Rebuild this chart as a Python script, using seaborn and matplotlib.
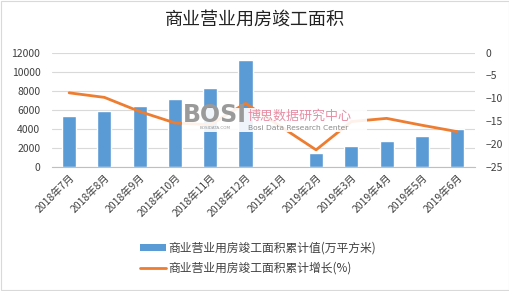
import numpy as np
import pandas as pd
import matplotlib
matplotlib.use("Agg")
import matplotlib.pyplot as plt
import seaborn as sns
from matplotlib.patches import Rectangle

categories = ["2018年7月", "2018年8月", "2018年9月", "2018年10月", "2018年11月", "2018年12月",
              "2019年1月", "2019年2月", "2019年3月", "2019年4月", "2019年5月", "2019年6月"]
area_values = [5340, 5900, 6390, 7130, 8280, 11230, np.nan, 1470, 2180, 2740, 3230, 3930]
growth_values = [-8.8, -9.8, -12.9, -15.4, -15.8, -11.1, np.nan, -21.3, -15.1, -14.4, -15.9, -17.3]
left_ticks = [0, 2000, 4000, 6000, 8000, 10000, 12000]
right_ticks = [0, -5, -10, -15, -20, -25]
title = "商业营业用房竣工面积"
bar_label = "商业营业用房竣工面积累计值(万平方米)"
line_label = "商业营业用房竣工面积累计增长(%)"

sns.set_style("white")
plt.rcParams["font.family"] = ["Noto Sans CJK SC", "DejaVu Sans"]

BAR = "#5B9BD5"
LINE = "#ED7D31"
TXT = "#404040"

df = pd.DataFrame({"cat": categories, "area": area_values, "growth": growth_values,
                   "pos": np.arange(len(categories))})

fig = plt.figure(figsize=(5.10, 2.91), dpi=100)
ax = fig.add_axes([0.101, 0.427, 0.830, 0.392])
ax2 = ax.twinx()

sns.barplot(data=df, x="cat", y="area", order=categories, color=BAR, width=0.4,
            saturation=1, ax=ax)
ax.set_ylim(0, 12000)
ax.set_yticks(left_ticks)
ax.set_xlim(-0.5, len(categories) - 0.5)
ax.grid(axis="y", color="#D9D9D9", linewidth=0.8)
ax.set_axisbelow(True)
ax.set_xlabel("")
ax.set_ylabel("")

line_df = df.dropna(subset=["growth"])
sns.lineplot(data=line_df, x="pos", y="growth", color=LINE, linewidth=2.0, ax=ax2,
             legend=False)
ax2.set_ylim(-25, 0)
ax2.set_yticks(right_ticks)
ax2.set_xlim(-0.5, len(categories) - 0.5)
ax2.set_ylabel("")
ax2.set_xlabel("")

for a in (ax, ax2):
    for s in a.spines.values():
        s.set_visible(False)
ax.spines["bottom"].set_visible(True)
ax.spines["bottom"].set_color("#BFBFBF")

ax.set_xticks(range(len(categories)))
ax.set_xticklabels(categories, rotation=45, ha="right", rotation_mode="anchor",
                   fontsize=7.5, color=TXT)
ax.tick_params(axis="x", length=0, pad=4)
ax.set_xticks(np.arange(-0.5, len(categories), 1), minor=True)
ax.tick_params(axis="x", which="minor", length=4, color="#BFBFBF", direction="out")
ax.tick_params(axis="y", length=0, labelsize=7.5, labelcolor=TXT, pad=8)
ax2.tick_params(axis="y", length=0, labelsize=7.5, labelcolor=TXT, pad=8)

fig.text(0.5, 0.931, title, ha="center", va="center", fontsize=13, color="#222222")

# watermark
fig.add_artist(Rectangle((0.357, 0.546), 0.363, 0.082, transform=fig.transFigure,
                         facecolor="white", edgecolor="none", alpha=0.9, zorder=5))
fig.text(0.421, 0.604, "BOSI", ha="center", va="center", fontsize=17, fontweight="bold",
         color="#9a9a9a", family=["DejaVu Sans"], zorder=6)
fig.text(0.421, 0.560, "BOSIDATA.COM", ha="center", va="center", fontsize=3,
         color="#9a9a9a", family=["DejaVu Sans"], zorder=6)
fig.text(0.486, 0.600, "博思数据研究中心", ha="left", va="center", fontsize=9.4,
         color="#E68FA5", zorder=6)
fig.text(0.486, 0.561, "Bosi Data Research Center", ha="left", va="center", fontsize=5.4,
         color="#8a8a8a", family=["DejaVu Sans"], zorder=6)

handles = [Rectangle((0, 0), 1, 1, facecolor=BAR, edgecolor="none"),
           plt.Line2D([], [], color=LINE, linewidth=2.0)]
fig.legend(handles, [bar_label, line_label], loc="center", bbox_to_anchor=(0.506, 0.112),
           ncol=1, frameon=False, fontsize=8.5, labelcolor=TXT, handlelength=2.2,
           handleheight=0.5, labelspacing=0.6, handletextpad=0.2)

fig.add_artist(Rectangle((0.002, 0.003), 0.996, 0.994, transform=fig.transFigure,
                         fill=False, edgecolor="#D9D9D9", linewidth=0.8))

fig.savefig("out.png", dpi=100)
